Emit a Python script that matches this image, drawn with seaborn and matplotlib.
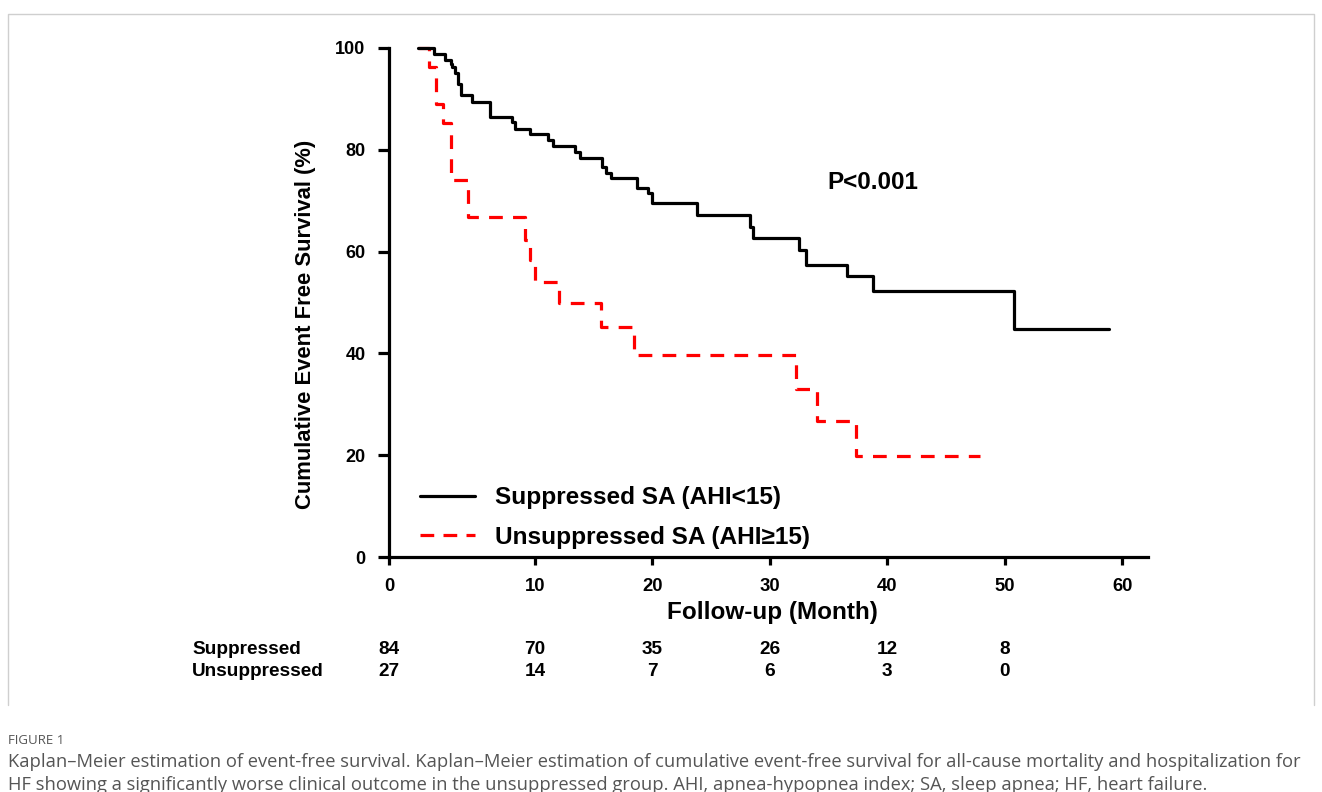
import matplotlib
matplotlib.use("Agg")
import matplotlib.pyplot as plt
import matplotlib.transforms as mtransforms
from matplotlib.lines import Line2D
import pandas as pd
import seaborn as sns

# Kaplan-Meier step points (month, survival %)
supp_month = [0, 1.4, 2.3, 2.8, 2.9, 3.2, 3.4, 3.7, 4.6, 6.2, 8.0, 8.3, 9.6, 11.1, 11.5,
              13.4, 13.8, 15.7, 16.0, 16.5, 18.7, 19.6, 20.0, 23.8, 28.3, 28.6, 32.5,
              33.1, 36.6, 38.8, 50.8, 58.9]
supp_surv = [100, 98.8, 97.6, 96.8, 96.2, 95.0, 93.0, 90.8, 89.4, 86.4, 85.5, 84.1, 83.1,
             81.9, 80.7, 79.6, 78.4, 76.7, 75.5, 74.5, 72.5, 71.5, 69.6, 67.2, 64.9, 62.6,
             60.3, 57.4, 55.2, 52.3, 44.7, 44.7]

unsupp_month = [0, 1.0, 1.6, 2.2, 2.8, 4.3, 9.1, 9.6, 10.0, 12.0, 15.6, 18.4, 32.2, 34.0,
                37.3, 47.9]
unsupp_surv = [100, 96.3, 88.9, 85.2, 74.1, 66.7, 62.3, 58.3, 54.0, 50.0, 45.2, 39.6, 33.1,
               26.8, 19.8, 19.8]

group_names = ["Suppressed", "Unsuppressed"]
legend_labels = ["Suppressed SA (AHI<15)", "Unsuppressed SA (AHI\u226515)"]

# numbers at risk
risk_months = [0, 10, 20, 30, 40, 50]
risk_supp = [84, 70, 35, 26, 12, 8]
risk_unsupp = [27, 14, 7, 6, 3, 0]

x_ticks = [0, 10, 20, 30, 40, 50, 60]
y_ticks = [0, 20, 40, 60, 80, 100]

caption_lines = [
    "Kaplan\u2013Meier estimation of event-free survival. Kaplan\u2013Meier estimation of cumulative event-free survival for all-cause mortality and hospitalization for",
    "HF showing a significantly worse clinical outcome in the unsuppressed group. AHI, apnea-hypopnea index; SA, sleep apnea; HF, heart failure.",
]

sns.set_style("ticks")
plt.rcParams["font.family"] = ["Liberation Sans", "DejaVu Sans"]
for key in ["text.color", "axes.labelcolor", "xtick.color", "ytick.color", "axes.edgecolor"]:
    plt.rcParams[key] = "black"

df = pd.concat([
    pd.DataFrame({"group": group_names[0], "month": supp_month, "survival": supp_surv}),
    pd.DataFrame({"group": group_names[1], "month": unsupp_month, "survival": unsupp_surv}),
])

colors = {"Suppressed": "black", "Unsuppressed": "#ff0000"}
dash_map = {"Suppressed": "", "Unsuppressed": (4.3, 3.2)}
LW = 2.3

fig = plt.figure(figsize=(13.22, 7.92), dpi=100)
W, H = 1322, 792
ax = fig.add_axes([389 / W, 1 - 557 / H, (1148 - 389) / W, (557 - 48) / H])

sns.lineplot(data=df, x="month", y="survival", hue="group", style="group",
             hue_order=group_names[::-1], style_order=group_names[::-1],
             palette=colors, dashes=dash_map, drawstyle="steps-post",
             estimator=None, sort=False, lw=LW, legend=False, ax=ax)
for ln in ax.lines:
    ln.set_clip_on(False)

# the "0" tick sits at the spine, a little left of month 0 (Prism-style offset)
x_start = -2.44
ax.set_xlim(x_start, 62.2)
ax.set_ylim(0, 100)
tick_pos = [x_start] + x_ticks[1:]
ax.set_xticks(tick_pos)
ax.set_xticklabels([str(t) for t in x_ticks])
ax.set_yticks(y_ticks)
ax.set_yticklabels([str(t) for t in y_ticks])

sns.despine(ax=ax)
for side in ["left", "bottom"]:
    ax.spines[side].set_linewidth(LW)
ax.tick_params(axis="y", direction="out", length=8, width=LW, pad=9, labelsize=13)
ax.tick_params(axis="x", direction="out", length=6, width=LW, pad=9, labelsize=13.3)
for lab in ax.get_xticklabels() + ax.get_yticklabels():
    lab.set_fontweight("bold")

ax.set_xlabel("Follow-up (Month)", fontsize=17.5, fontweight="bold")
ax.set_ylabel("Cumulative Event Free Survival (%)", fontsize=15.8, fontweight="bold")
ax.xaxis.set_label_coords((772 - 389) / (1148 - 389), (557 - 612) / (557 - 48))
ax.xaxis.label.set_verticalalignment("center")
ax.yaxis.set_label_coords((306 - 389) / (1148 - 389), (557 - 324) / (557 - 48))
ax.yaxis.label.set_verticalalignment("center")

ax.text(38.8, 73.5, "P<0.001", fontsize=17.5, fontweight="bold", ha="center", va="center")

handles = [Line2D([], [], color=colors[g], lw=LW,
                  linestyle="-" if g == "Suppressed" else (0, (4.3, 2.9)))
           for g in group_names]
fig.legend(handles, legend_labels, loc="center left",
           bbox_to_anchor=(420 / W, 1 - 517.5 / H), frameon=False,
           prop={"size": 17.6, "weight": "bold"}, handlelength=2.25,
           handletextpad=0.82, labelspacing=0.66, borderpad=0, borderaxespad=0)

# numbers-at-risk table
trans = mtransforms.blended_transform_factory(ax.transData, fig.transFigure)
risk_x = [x_start] + risk_months[1:]
for row_y, name, vals in [(650, "Suppressed", risk_supp), (672, "Unsuppressed", risk_unsupp)]:
    fig.text(192 / W, 1 - row_y / H, name, fontsize=13.7, fontweight="bold",
             ha="left", va="center")
    for xm, v in zip(risk_x, vals):
        ax.text(xm, 1 - row_y / H, str(v), transform=trans, fontsize=13.7,
                fontweight="bold", ha="center", va="center")

# figure frame (top and sides only) and caption
frame_x = [8 / W, 8 / W, 1314 / W, 1314 / W]
frame_y = [1 - 705 / H, 1 - 14 / H, 1 - 14 / H, 1 - 705 / H]
fig.add_artist(Line2D(frame_x, frame_y, transform=fig.transFigure,
                      color="#cfcfcf", lw=1))
fig.text(8 / W, 1 - 740 / H, "FIGURE 1", fontsize=9.5, color="#555555",
         family="Open Sans", ha="left", va="center")
for i, line in enumerate(caption_lines):
    fig.text(8 / W, 1 - (762 + 23 * i) / H, line, fontsize=13.2, color="#555555",
             family="Open Sans", ha="left", va="center")

fig.savefig("out.png", dpi=100, facecolor="white")
